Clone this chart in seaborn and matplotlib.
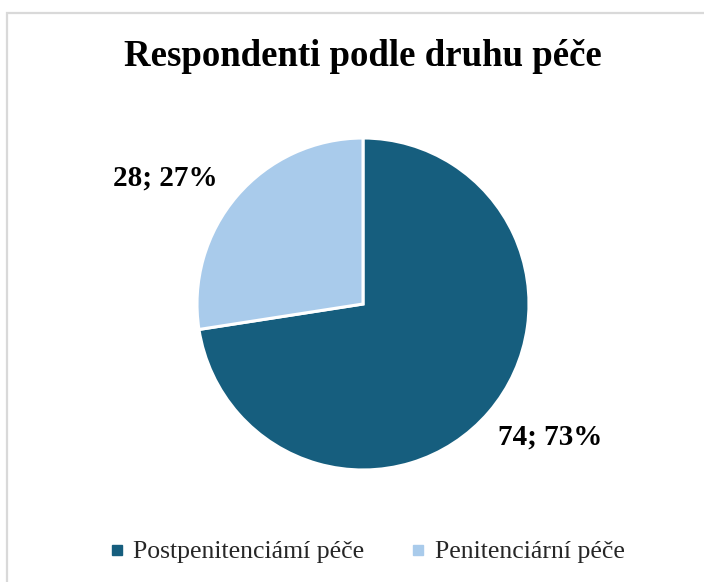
import matplotlib
matplotlib.use("Agg")
import matplotlib.pyplot as plt
from matplotlib.lines import Line2D
from matplotlib.patches import Rectangle
import seaborn as sns

categories = ["Postpenitenciámí péče", "Penitenciární péče"]
counts = [74, 28]
percents = [73, 27]
colors = ["#165E7E", "#A9CBEB"]
title = "Respondenti podle druhu péče"

sns.set_theme(style="white")
plt.rcParams["font.family"] = ["Liberation Serif", "DejaVu Serif"]

W, H = 704, 582
fig = plt.figure(figsize=(W / 100, H / 100), dpi=100)
fig.patch.set_facecolor("white")

# chart border (light gray), cropped at right and bottom
fig.add_artist(Rectangle((6.5 / W, -0.1), 1.2, 1.1 - 0.5 / H - 12.5 / H,
                         transform=fig.transFigure, fill=False,
                         edgecolor="#D9D9D9", linewidth=1.6))

cx, cy, r = 363, 304, 166
ax = fig.add_axes([(cx - r) / W, (H - cy - r) / H, 2 * r / W, 2 * r / H])
ax.pie(counts, colors=colors, startangle=90, counterclock=False, radius=1,
       wedgeprops=dict(edgecolor="white", linewidth=2.2))
ax.set_xlim(-1, 1)
ax.set_ylim(-1, 1)
ax.axis("off")

label_pos = [((550 - cx) / r, (cy - 437) / r), ((165 - cx) / r, (cy - 178) / r)]
for (x, y), c, p in zip(label_pos, counts, percents):
    ax.text(x, y, f"{c}; {p}%", ha="center", va="center", fontsize=21,
            fontweight="bold", color="black", clip_on=False)

fig.text(363 / W, 1 - 57 / H, title, ha="center", va="center",
         fontsize=26.5, fontweight="bold", color="black")

handles = [Line2D([], [], marker="s", linestyle="none", markersize=6.5,
                  markerfacecolor=c, markeredgecolor=c) for c in colors]
fig.legend(handles, categories, loc="center", bbox_to_anchor=(367 / W, 1 - 552 / H),
           ncol=2, frameon=False, fontsize=18.5, handlelength=0.6,
           handletextpad=0.35, columnspacing=1.8)

fig.savefig("out.png", dpi=100, facecolor="white")
